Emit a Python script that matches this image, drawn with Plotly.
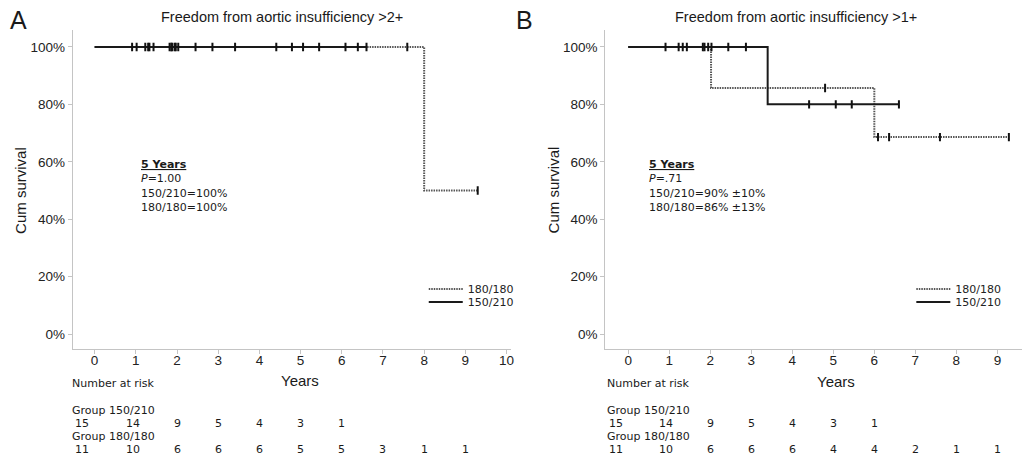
import plotly.graph_objects as go

# ---------------- data ----------------
GROUPS = ["180/180", "150/210"]
XTICKS_A = list(range(0, 11))
XTICKS_B = list(range(0, 10))
YTICKS = [0, 20, 40, 60, 80, 100]
YTICK_TEXT = ["0%", "20%", "40%", "60%", "80%", "100%"]

# Panel A: freedom from AI >2+
A_t_150 = [0, 6.6]
A_s_150 = [100, 100]
A_t_180 = [0, 8.0, 9.3]
A_s_180 = [100, 50, 50]
A_cens_150 = [0.91, 1.23, 1.33, 1.43, 1.82, 1.88, 1.94, 2.03, 2.45, 2.86, 3.41, 4.41, 5.06, 5.45, 6.6]
A_cens_180 = [1.02, 1.30, 1.86, 1.97, 4.79, 6.09, 6.39, 7.59, 9.3]

# Panel B: freedom from AI >1+
B_t_150 = [0, 3.4, 6.6]
B_s_150 = [100, 80, 80]
B_t_180 = [0, 2.02, 6.0, 9.28]
B_s_180 = [100, 85.7, 68.6, 68.6]
B_cens_150 = [0.91, 1.23, 1.33, 1.43, 1.82, 1.95, 2.03, 2.44, 2.87, 4.41, 5.06, 5.45, 6.6]
B_cens_180 = [1.86, 4.8, 6.09, 6.36, 7.6, 9.28]

# Number at risk
RISK_A_150 = [15, 14, 9, 5, 4, 3, 1]
RISK_A_180 = [11, 10, 6, 6, 6, 5, 5, 3, 1, 1]
RISK_B_150 = [15, 14, 9, 5, 4, 3, 1]
RISK_B_180 = [11, 10, 6, 6, 6, 4, 4, 2, 1, 1]

TITLE_A = "Freedom from aortic insufficiency >2+"
TITLE_B = "Freedom from aortic insufficiency >1+"
STATS_A = ["5 Years", "P=1.00", "150/210=100%", "180/180=100%"]
STATS_B = ["5 Years", "P=.71", "150/210=90% ±10%", "180/180=86% ±13%"]

# ---------------- helpers ----------------
W, H = 1025, 459
def px(x):
    return x / W
def py(y):
    return 1 - y / H

def step_val(ts, ss, t):
    v = ss[0]
    for ti, si in zip(ts, ss):
        if t >= ti:
            v = si
    return v

SOLID = dict(color="#1a1a1a", width=2)
DOT = dict(color="#555555", width=2, dash="1.5px,1px")
VERD = "DejaVu Sans"
ARIAL = "Liberation Sans, Arial"

fig = go.Figure()

def add_panel(xa, ya, legs, t150, s150, t180, s180, c150, c180):
    fig.add_trace(go.Scatter(x=t180, y=s180, mode="lines", line_shape="hv", line=DOT,
                             name=GROUPS[0], xaxis=xa, yaxis=ya, legend=legs[0], showlegend=True))
    fig.add_trace(go.Scatter(x=t150, y=s150, mode="lines", line_shape="hv", line=SOLID,
                             name=GROUPS[1], xaxis=xa, yaxis=ya, legend=legs[1], showlegend=True))
    for cs, ts, ss in ((c180, t180, s180), (c150, t150, s150)):
        fig.add_trace(go.Scatter(x=cs, y=[step_val(ts, ss, c) for c in cs], mode="markers",
                                 marker=dict(symbol="line-ns", size=6,
                                             line=dict(color="#111", width=2)),
                                 xaxis=xa, yaxis=ya, showlegend=False, hoverinfo="skip"))

add_panel("x", "y", ("legend", "legend2"), A_t_150, A_s_150, A_t_180, A_s_180, A_cens_150, A_cens_180)
add_panel("x2", "y2", ("legend3", "legend4"), B_t_150, B_s_150, B_t_180, B_s_180, B_cens_150, B_cens_180)

YDOM = [py(349), py(30)]
axis_common = dict(showline=True, linecolor="#c4c4c4", linewidth=1, ticks="outside",
                   ticklen=4, tickcolor="#c4c4c4", showgrid=False, zeroline=False,
                   tickfont=dict(family=ARIAL, size=13.5, color="#222"))

def legbox(x, y):
    return dict(x=px(x), y=py(y), xanchor="left", yanchor="middle", bgcolor="rgba(0,0,0,0)",
                font=dict(family=VERD, size=11, color="#222"), tracegroupgap=0,
                itemwidth=34, borderwidth=0)

fig.update_layout(
    width=W, height=H, margin=dict(l=0, r=0, t=0, b=0),
    plot_bgcolor="white", paper_bgcolor="white",
    xaxis=dict(domain=[px(73), px(513)], range=[-0.53, 10.12], tickvals=XTICKS_A,
               ticklabelstandoff=-5, **axis_common),
    yaxis=dict(domain=YDOM, range=[-5.2, 105.9], tickvals=YTICKS, ticktext=YTICK_TEXT,
               anchor="x", **axis_common),
    xaxis2=dict(domain=[px(607), 1.0], range=[-0.56, 9.6], tickvals=XTICKS_B, anchor="y2",
                ticklabelstandoff=-5, **axis_common),
    yaxis2=dict(domain=YDOM, range=[-5.2, 105.9], tickvals=YTICKS, ticktext=YTICK_TEXT,
                anchor="x2", **axis_common),
    legend=legbox(425, 289),
    legend2=legbox(425, 302),
    legend3=legbox(914, 289),
    legend4=legbox(914, 302),
)

ann = []
def text(x, y, s, size=11, family=VERD, xanchor="left", yanchor="middle", angle=0, xref="paper"):
    ann.append(dict(x=x, y=y, xref=xref, yref="paper", text=s, showarrow=False,
                    xanchor=xanchor, yanchor=yanchor, textangle=angle, align="left",
                    font=dict(family=family, size=size, color="#1a1a1a")))

# panel letters and titles
text(px(8), py(20), "A", size=25, family=ARIAL)
text(px(516), py(20), "B", size=25, family=ARIAL)
text(px(283), py(17), TITLE_A, size=14.5, family=ARIAL, xanchor="center")
text(px(798), py(17), TITLE_B, size=14.5, family=ARIAL, xanchor="center")
# axis titles
text(px(20), py(190), "Cum survival", size=15, family=ARIAL, xanchor="center", angle=-90)
text(px(555), py(190), "Cum survival", size=15, family=ARIAL, xanchor="center", angle=-90)
text(px(301), py(380), "Years", size=15, family=ARIAL, xanchor="center")
text(px(838), py(381), "Years", size=15, family=ARIAL, xanchor="center")

# stats boxes
for x0, st in ((139, STATS_A), (649, STATS_B)):
    lines = ["<b><u>%s</u></b>" % st[0], "<i>P</i>" + st[1][1:], st[2], st[3]]
    text(px(x0), py(156), "<br>".join(lines), yanchor="top")

# risk tables
for x0, xr, r150, r180 in (("A", "x", RISK_A_150, RISK_A_180), ("B", "x2", RISK_B_150, RISK_B_180)):
    left = 70.7 if x0 == "A" else 607
    text(px(left), py(383), "Number at risk")
    text(px(left), py(410), "Group 150/210")
    text(px(left), py(436), "Group 180/180")
    for row, yy in ((r150, 423), (r180, 449.5)):
        for i, v in enumerate(row):
            xv = i - 0.30 if i == 0 else (i - 0.07 if i == 1 else i)
            text(xv, py(yy), str(v), xanchor="center", xref=xr)

fig.update_layout(annotations=ann)
fig.write_html("out.html", config={"displayModeBar": False},
               post_script="document.body.style.margin='0';document.body.style.overflow='hidden';")
